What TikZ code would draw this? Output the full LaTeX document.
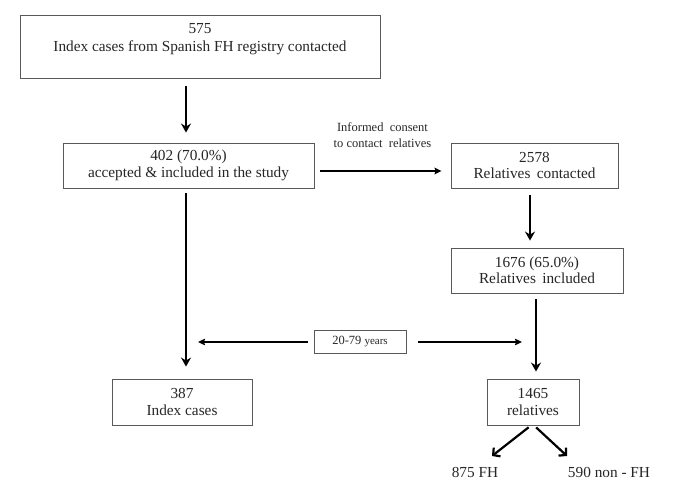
\documentclass[tikz,border=0pt]{standalone}
\usepackage{fontspec}
\setmainfont{Liberation Serif}
\usetikzlibrary{arrows.meta}
\begin{document}
\begin{tikzpicture}[x=1pt,y=-1pt,
  box/.style={draw=black!65, line width=0.9pt, inner sep=0pt, align=center, font=\fontsize{15.3}{16.5}\selectfont, text=black!85},
  varr/.style={line width=2.2pt, -{Stealth[length=9pt,width=10pt,inset=3pt]}},
  darr/.style={line width=2.2pt, -{Straight Barb[length=5pt,width=11pt]}},
  harr/.style={line width=2.2pt, -{Stealth[length=7pt,width=6.5pt,inset=1pt]}},
  lbl/.style={font=\fontsize{15.3}{17}\selectfont, inner sep=0pt, text=black!85},
  small/.style={font=\fontsize{12.5}{16}\selectfont, align=center, inner sep=0pt, text=black!85}]
\useasboundingbox (0,0) rectangle (685,497);
\fill[white] (0,0) rectangle (685,497);

\node[box, minimum width=360pt, minimum height=63pt,
  label={[lbl, align=center, anchor=north, yshift=-9pt, font=\fontsize{15.3}{18}\selectfont]north:{575\\Index cases from Spanish FH registry contacted}}] (b1) at (200,46.5) {};
\node[box, minimum width=251pt, minimum height=45pt] (b2) at (188.5,165.5) {402 (70.0\%)\\accepted \& included in the study};
\node[box, minimum width=167pt, minimum height=45pt] (b3) at (534.5,165.5) {2578\\Relatives\, contacted};
\node[box, minimum width=172pt, minimum height=45pt] (b4) at (537,270.5) {1676 (65.0\%)\\Relatives\, included};
\node[box, minimum width=140pt, minimum height=46pt] (b5) at (182,402) {387\\Index cases};
\node[box, minimum width=92pt, minimum height=46pt] (b6) at (533,402) {1465\\relatives};
\node[box, minimum width=92pt, minimum height=23pt] (age) at (360,341.5) {\fontsize{12.5}{14}\selectfont 20-79 {\fontsize{11}{13}\selectfont years}};
\node[lbl] (fh) at (475,472) {875 FH};
\node[lbl] (nfh) at (609,472) {590 non - FH};

\coordinate (lt) at (198,342);
\coordinate (rt) at (522,342);
\coordinate (fhtip) at (492,456);
\coordinate (nfhtip) at (567,456);

\draw[varr, shorten <=8pt, shorten >=10pt] ([xshift=-14pt]b1.south) -- ([xshift=-14pt]b1.south |- b2.north);
\draw[harr, shorten <=6pt, shorten >=9pt] ([yshift=-5.5pt]b2.east) -- node[small, midway, above=22pt] {Informed\ \ consent\\to contact\ \ relatives} ([yshift=-5.5pt]b3.west);
\draw[varr, shorten <=7pt, shorten >=7pt] ([xshift=-4.5pt]b3.south) -- ([xshift=-4.5pt]b3.south |- b4.north);
\draw[varr, shorten <=6pt, shorten >=7pt] ([xshift=-1pt]b4.south) -- ([xshift=-1pt]b4.south |- b6.north);
\draw[varr, shorten <=5pt, shorten >=12pt] ([xshift=-2.5pt]b2.south) -- ([xshift=-2.5pt]b2.south |- b5.north);
\draw[harr, shorten <=6pt] ([yshift=-0.5pt]age.west) -- (lt);
\draw[harr, shorten <=12pt] ([yshift=-0.5pt]age.east) -- (rt);
\draw[darr, shorten <=3pt] ([xshift=-2pt]b6.south) -- (fhtip);
\draw[darr, shorten <=3pt] ([xshift=1pt]b6.south) -- (nfhtip);
\end{tikzpicture}
\end{document}
